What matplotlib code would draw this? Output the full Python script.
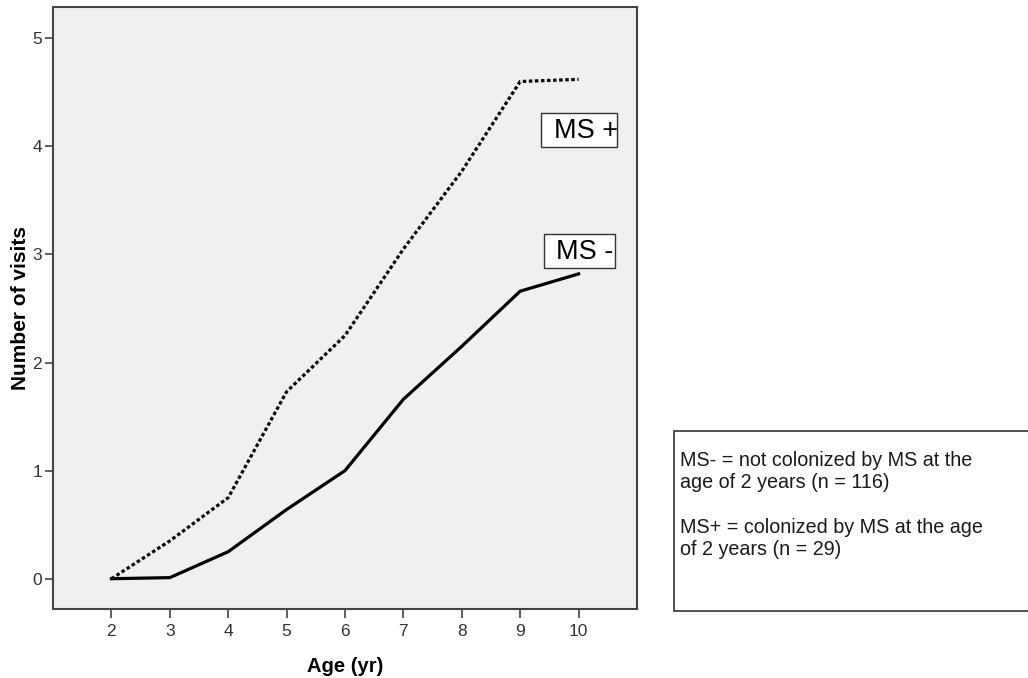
"""Number of visits by age, MS- vs MS+ (SPSS-style line chart)."""

import matplotlib

matplotlib.use("Agg")
import matplotlib.pyplot as plt  # noqa: E402
from matplotlib.patches import Rectangle  # noqa: E402

plt.rcParams["font.family"] = ["Liberation Sans", "DejaVu Sans"]

# data
ages = [2, 3, 4, 5, 6, 7, 8, 9, 10]
ms_neg = [0.0, 0.01, 0.25, 0.64, 1.0, 1.66, 2.15, 2.66, 2.82]
ms_pos = [0.0, 0.35, 0.75, 1.73, 2.25, 3.05, 3.77, 4.60, 4.62]
y_ticks = [0, 1, 2, 3, 4, 5]

NOTE = ("MS- = not colonized by MS at the\nage of 2 years (n = 116)\n\n"
        "MS+ = colonized by MS at the age\nof 2 years (n = 29)")

fig = plt.figure(figsize=(10.28, 6.78), dpi=100)
ax = fig.add_axes([0.0516, 0.1018, 0.568, 0.888])
ax.set_facecolor("#f0f0f0")

ax.plot(ages, ms_neg, color="black", lw=2.3, solid_joinstyle="miter")
ax.plot(ages, ms_pos, color="black", lw=2.3, linestyle=(0, (1.1, 0.8)),
        dash_capstyle="butt")

ax.set_xlim(1, 11)
ax.set_ylim(-0.28, 5.29)
ax.set_xticks(ages)
ax.set_yticks(y_ticks)

for sp in ax.spines.values():
    sp.set_color("#444444")
    sp.set_linewidth(1.5)
ax.tick_params(axis="both", direction="out", color="#333333", width=1.1,
               labelsize=12.5, labelcolor="#333333")
ax.tick_params(axis="y", length=5.8, pad=2)
ax.tick_params(axis="x", length=6.5, pad=4)

ax.set_xlabel("Age (yr)", fontsize=14.5, fontweight="bold", labelpad=13)
ax.set_ylabel("Number of visits", fontsize=15, fontweight="bold", labelpad=2)

# group labels inside the plot
for (x0, y0, x1, y1), label, tx, ty in [
    ((9.35, 3.99, 10.65, 4.31), "MS +", 9.58, 4.14),
    ((9.40, 2.87, 10.62, 3.19), "MS -", 9.62, 3.02),
]:
    ax.add_patch(Rectangle((x0, y0), x1 - x0, y1 - y0, facecolor="white",
                           edgecolor="#333333", lw=1.0, zorder=3))
    ax.text(tx, ty, label, fontsize=19.5, va="center", ha="left", zorder=4)

# note box at the right, cut by the figure edge
fig.patches.append(Rectangle((674 / 1028, 1 - 611 / 678), 0.4, (611 - 431) / 678,
                             transform=fig.transFigure, facecolor="white",
                             edgecolor="#333333", lw=1.2))
fig.text(680 / 1028, 1 - 451 / 678, NOTE, fontsize=14.2, va="top", ha="left",
         linespacing=1.22, color="#1a1a1a")

fig.savefig("out.png", dpi=100, facecolor="white")
